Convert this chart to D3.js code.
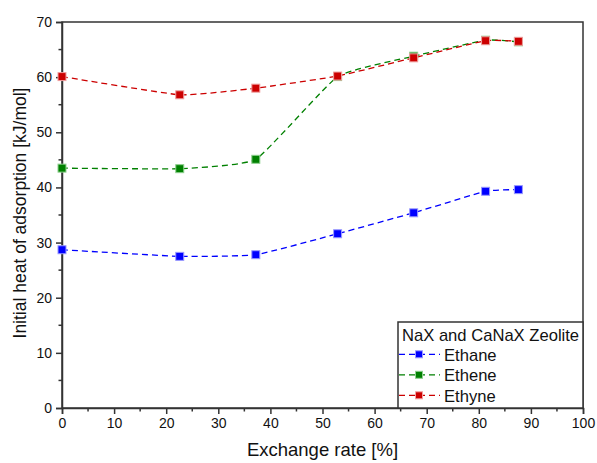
<!DOCTYPE html>
<html>
<head>
<meta charset="utf-8">
<script src="https://cdn.jsdelivr.net/npm/d3@7"></script>
<style>
  body { margin: 0; background: #fff; }
  svg { font-family: "Liberation Sans", Arial, sans-serif; }
</style>
</head>
<body>
<div id="chart"></div>
<script>
const exchangeRate = [0, 22.6, 37.2, 52.9, 67.5, 81.3, 87.6];
const ethane = [28.7, 27.5, 27.8, 31.6, 35.4, 39.3, 39.6];
const ethene = [43.5, 43.4, 45.1, 60.1, 63.8, 66.7, 66.4];
const ethyne = [60.1, 56.8, 58.0, 60.2, 63.5, 66.6, 66.5];
const seriesNames = ['Ethane', 'Ethene', 'Ethyne'];
const xTicks = [0, 10, 20, 30, 40, 50, 60, 70, 80, 90, 100];
const yTicks = [0, 10, 20, 30, 40, 50, 60, 70];

const width = 597, height = 463;
const margin = { top: 22, right: 14, bottom: 55, left: 62 };
const innerW = width - margin.left - margin.right;
const innerH = height - margin.top - margin.bottom;

const series = [
    { name: seriesNames[0], values: ethane, color: '#0000ff', edge: '#9a9aff' },
    { name: seriesNames[1], values: ethene, color: '#008000', edge: '#8fd08f' },
    { name: seriesNames[2], values: ethyne, color: '#cc0000', edge: '#f0a0a0' }
];

const svg = d3.select('#chart').append('svg')
    .attr('width', width)
    .attr('height', height);

const g = svg.append('g')
    .attr('transform', `translate(${margin.left},${margin.top})`);

const x = d3.scaleLinear().domain([0, 100]).range([0, innerW]);
const y = d3.scaleLinear().domain([0, 70]).range([innerH, 0]);

// frame
g.append('rect')
    .attr('width', innerW)
    .attr('height', innerH)
    .attr('fill', 'none')
    .attr('stroke', '#333')
    .attr('stroke-width', 1.5);

// minor ticks
const minorX = d3.range(5, 100, 10);
const minorY = d3.range(5, 70, 10);

g.selectAll('.mx').data(minorX).join('line')
    .attr('x1', d => x(d)).attr('x2', d => x(d))
    .attr('y1', innerH).attr('y2', innerH + 3.5)
    .attr('stroke', '#333').attr('stroke-width', 1.5);

g.selectAll('.my').data(minorY).join('line')
    .attr('x1', 0).attr('x2', -3.5)
    .attr('y1', d => y(d)).attr('y2', d => y(d))
    .attr('stroke', '#333').attr('stroke-width', 1.5);

const xAxis = g.append('g')
    .attr('transform', `translate(0,${innerH})`)
    .call(d3.axisBottom(x).tickValues(xTicks).tickSize(6).tickPadding(4));

const yAxis = g.append('g')
    .call(d3.axisLeft(y).tickValues(yTicks).tickSize(6).tickPadding(4));

[xAxis, yAxis].forEach(a => {
    a.select('.domain').attr('stroke', '#333').attr('stroke-width', 1.5);
    a.selectAll('.tick line').attr('stroke', '#333').attr('stroke-width', 1.5);
    a.selectAll('.tick text')
        .attr('fill', '#111')
        .style('font-size', '14px')
        .style('font-family', '"Liberation Sans", Arial, sans-serif');
});

// axis titles
svg.append('text')
    .attr('x', margin.left + innerW / 2)
    .attr('y', 456)
    .attr('text-anchor', 'middle')
    .style('font-size', '18.5px')
    .attr('fill', '#111')
    .text('Exchange rate [%]');

svg.append('text')
    .attr('transform', `translate(26,213) rotate(-90)`)
    .attr('text-anchor', 'middle')
    .style('font-size', '17.5px')
    .attr('fill', '#111')
    .text('Initial heat of adsorption [kJ/mol]');

const line = d3.line()
    .x((d, i) => x(exchangeRate[i]))
    .y(d => y(d))
    .curve(d3.curveCardinal.tension(0.6));

const markerSize = 8;

series.forEach(s => {
    g.append('path')
        .datum(s.values)
        .attr('d', line)
        .attr('fill', 'none')
        .attr('stroke', s.color)
        .attr('stroke-width', 1.3)
        .attr('stroke-dasharray', '6,4');
});

series.forEach(s => {
    g.selectAll(null).data(s.values).join('rect')
        .attr('x', (d, i) => x(exchangeRate[i]) - markerSize / 2)
        .attr('y', d => y(d) - markerSize / 2)
        .attr('width', markerSize)
        .attr('height', markerSize)
        .attr('fill', s.color)
        .attr('stroke', s.edge)
        .attr('stroke-width', 1);
});

// legend
const legX = 398 - margin.left, legY = 322 - margin.top;
const legend = g.append('g').attr('transform', `translate(${legX},${legY})`);
legend.append('rect')
    .attr('width', innerW - legX)
    .attr('height', innerH - legY)
    .attr('fill', '#fff')
    .attr('stroke', '#333')
    .attr('stroke-width', 1.5);

legend.append('text')
    .attr('x', 4)
    .attr('y', 18.7)
    .style('font-size', '16.6px')
    .attr('fill', '#111')
    .text('NaX and CaNaX Zeolite');

series.forEach((s, i) => {
    const ly = 32.3 + i * 20.5;
    legend.append('line')
        .attr('x1', 1).attr('x2', 42)
        .attr('y1', ly).attr('y2', ly)
        .attr('stroke', s.color)
        .attr('stroke-width', 1.3)
        .attr('stroke-dasharray', '6,4');
    legend.append('rect')
        .attr('x', 21 - 3.5)
        .attr('y', ly - 3.5)
        .attr('width', 7)
        .attr('height', 7)
        .attr('fill', s.color)
        .attr('stroke', s.edge)
        .attr('stroke-width', 1);
    legend.append('text')
        .attr('x', 46)
        .attr('y', ly + 6.4)
        .style('font-size', '16.6px')
        .attr('fill', '#111')
        .text(s.name);
});
</script>
</body>
</html>
